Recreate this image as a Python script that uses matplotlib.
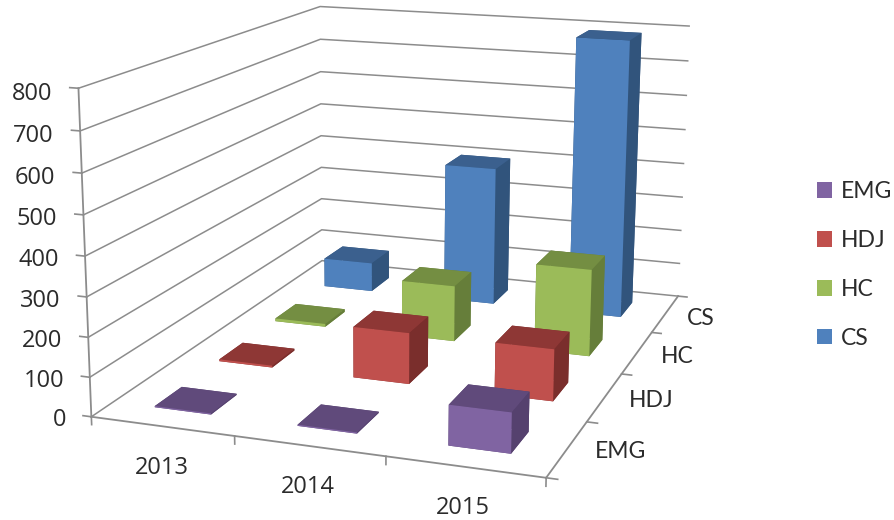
import numpy as np
import matplotlib
matplotlib.use("Agg")
import matplotlib.pyplot as plt
from matplotlib.patches import Patch
from mpl_toolkits.mplot3d import proj3d

# Chart data
years = ["2013", "2014", "2015"]
series = ["EMG", "HDJ", "HC", "CS"]
emg = [3, 3, 100]
hdj = [5, 135, 135]
hc = [8, 155, 238]
cs = [85, 400, 790]
z_ticks = [0, 100, 200, 300, 400, 500, 600, 700, 800]

# Face colours per series: front, top, side
front = ["#8064A2", "#C0504D", "#9BBB59", "#4F81BD"]
top = ["#604A7B", "#8E3735", "#748E42", "#3B608E"]
side = ["#55416E", "#7A2E2C", "#667E3A", "#31547C"]

GRID = "#8C8C8C"
AXIS = "#8C8C8C"
TEXT = "#2B2B2B"
FS = 16.5
BAR = 0.4

plt.rcParams["font.family"] = "Lato"

fig = plt.figure(figsize=(8.94, 5.2), dpi=100)
ax = fig.add_axes([0.0330, -0.1362, 0.8404, 1.4448], projection="3d",
                  computed_zorder=False)
ax.set_proj_type("persp", focal_length=0.4550)
ax.view_init(elev=13.882, azim=-70.985, roll=-0.297)
ax.set_box_aspect((1.4108, 1.8538, 1))
nx, ny = len(years), len(series)
zmax = z_ticks[-1]
ax.set_xlim(0, nx)
ax.set_ylim(0, ny)
ax.set_zlim(0, zmax)
ax.set_axis_off()
ax.patch.set_visible(False)


def label(x, y, z, s, **kw):
    """Place flat text at the projected position of a 3D point."""
    px, py, _ = proj3d.proj_transform(x, y, z, ax.get_proj())
    ax.text2D(px, py, s, transform=ax.transData, va="center", color=TEXT, **kw)


# Walls: gridlines run along the left wall and then the back wall
for v in z_ticks:
    ax.plot([0, 0, nx], [0, ny, ny], [v, v, v], color=GRID, lw=1.1, zorder=1,
            clip_on=False)
    ax.plot([-0.06, 0], [0, 0], [v, v], color=AXIS, lw=1.2, zorder=1, clip_on=False)
    label(-0.185, 0, v - 17, str(v), ha="right", fontsize=17, family="Open Sans")

# Axis lines and their tick marks
ax.plot([0, 0], [0, 0], [0, zmax], color=AXIS, lw=1.3, zorder=1, clip_on=False)
ax.plot([0, nx], [0, 0], [0, 0], color=AXIS, lw=1.3, zorder=1, clip_on=False)
ax.plot([nx, nx], [0, ny], [0, 0], color=AXIS, lw=1.3, zorder=1, clip_on=False)
for i in range(nx + 1):
    ax.plot([i, i], [0, 0], [0, -20], color=AXIS, lw=1.2, zorder=1, clip_on=False)
for j in range(ny + 1):
    ax.plot([nx, nx + 0.07], [j, j], [0, 0], color=AXIS, lw=1.2, zorder=1, clip_on=False)

# Category and series labels
for i, s in enumerate(years):
    label(i + 0.49, 0, -105 + 2.5 * i, s, ha="center", fontsize=17, family="Open Sans")
for j, s in enumerate(series):
    label(nx + 0.33 - 0.02 * j, j + 0.5, 10 - 4 * j, s, ha="center", fontsize=FS)

# Bars, painted from the back row to the front row
values = [emg, hdj, hc, cs]
z = 10
for j in reversed(range(ny)):
    for i in range(nx):
        # bar3d face order: -Z, +Z, -Y, +Y, -X, +X
        faces = [top[j], top[j], front[j], side[j], side[j], side[j]]
        ax.bar3d(i + (1 - BAR) / 2, j + (1 - BAR) / 2, 0, BAR, BAR, values[j][i],
                 color=faces, shade=False, linewidth=0, zorder=z, clip_on=False)
        z += 1

handles = [Patch(facecolor=c, edgecolor="none") for c in front]
fig.legend(handles, series, loc="upper left", bbox_to_anchor=(817 / 894, 1 - 181 / 520),
           frameon=False, fontsize=FS, labelcolor=TEXT, handlelength=0.65,
           handleheight=0.65, handletextpad=0.39, labelspacing=1.22, borderpad=0,
           borderaxespad=0)

fig.savefig("out.png", dpi=100)
